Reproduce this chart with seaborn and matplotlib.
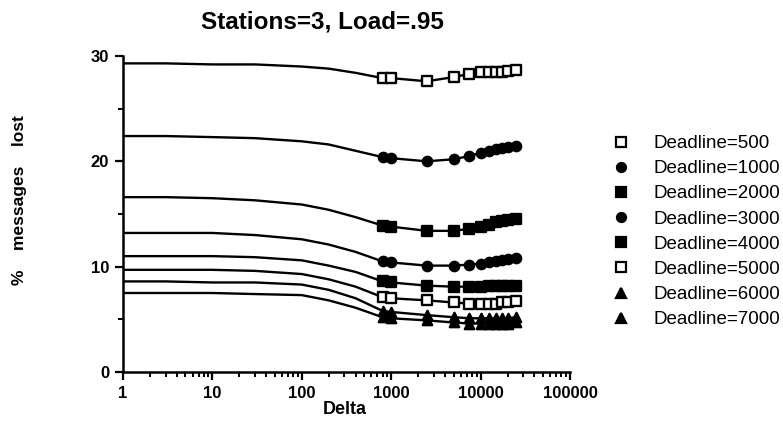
import matplotlib
matplotlib.use("Agg")
import matplotlib.pyplot as plt
from matplotlib.lines import Line2D
from matplotlib.ticker import LogLocator, FixedLocator, NullFormatter
import seaborn as sns
import pandas as pd
import numpy as np

# line-only points (no markers drawn) and marked points
delta_line = [1, 3, 10, 30, 100, 200, 400]
delta_mark = [800, 1000, 2500, 5000, 7500, 10000, 12500, 15000, 17500, 20000, 25000]

deadlines = [500, 1000, 2000, 3000, 4000, 5000, 6000, 7000]

lost_500 = [29.3, 29.3, 29.2, 29.2, 29.0, 28.8, 28.4,
            27.9, 27.9, 27.6, 28.0, 28.3, 28.5, 28.5, 28.5, 28.5, 28.6, 28.7]
lost_1000 = [22.4, 22.4, 22.3, 22.2, 21.9, 21.6, 21.0,
             20.4, 20.3, 20.0, 20.2, 20.5, 20.8, 21.0, 21.2, 21.3, 21.4, 21.5]
lost_2000 = [16.6, 16.6, 16.5, 16.3, 15.9, 15.4, 14.7,
             13.9, 13.8, 13.4, 13.4, 13.6, 13.8, 14.0, 14.2, 14.3, 14.4, 14.5]
lost_3000 = [13.2, 13.2, 13.2, 13.0, 12.6, 12.1, 11.4,
             10.5, 10.4, 10.1, 10.1, 10.2, 10.3, 10.4, 10.5, 10.6, 10.7, 10.8]
lost_4000 = [11.0, 11.0, 11.0, 10.9, 10.6, 10.1, 9.5,
             8.6, 8.5, 8.2, 8.1, 8.1, 8.1, 8.2, 8.2, 8.2, 8.2, 8.2]
lost_5000 = [9.7, 9.7, 9.7, 9.6, 9.3, 8.8, 8.1,
             7.1, 7.0, 6.8, 6.6, 6.5, 6.5, 6.5, 6.5, 6.6, 6.6, 6.7]
lost_6000 = [8.6, 8.6, 8.5, 8.5, 8.3, 7.8, 7.0,
             5.8, 5.7, 5.4, 5.2, 5.1, 5.1, 5.1, 5.1, 5.1, 5.1, 5.2]
lost_7000 = [7.5, 7.5, 7.5, 7.4, 7.3, 6.8, 6.1,
             5.2, 5.1, 4.9, 4.7, 4.6, 4.6, 4.6, 4.6, 4.6, 4.6, 4.7]

series = [lost_500, lost_1000, lost_2000, lost_3000,
          lost_4000, lost_5000, lost_6000, lost_7000]

# marker shape, face colour
styles = [('s', 'white'), ('o', 'black'), ('s', 'black'), ('o', 'black'),
          ('s', 'black'), ('s', 'white'), ('^', 'black'), ('^', 'black')]

rows = []
for d, vals in zip(deadlines, series):
    for x, v in zip(delta_line + delta_mark, vals):
        rows.append({'Delta': x, 'Lost': v, 'Deadline': f'Deadline={d}',
                     'marked': x >= 800})
df = pd.DataFrame(rows)

sns.set_style('white')
plt.rcParams['font.family'] = ['Liberation Sans', 'DejaVu Sans']
plt.rcParams['text.color'] = 'black'

fig = plt.figure(figsize=(7.83, 4.44), dpi=100)
ax = fig.add_axes([123 / 783, 1 - 372 / 444, (570 - 123) / 783, (372 - 56) / 444])

handles = []
for d, (mk, fc) in zip(deadlines, styles):
    label = f'Deadline={d}'
    sub = df[df['Deadline'] == label]
    sns.lineplot(data=sub, x='Delta', y='Lost', ax=ax, color='black',
                 linewidth=1.7, legend=False, errorbar=None)
    pts = sub[sub['marked']]
    sns.scatterplot(data=pts, x='Delta', y='Lost', ax=ax, marker=mk,
                    s=45, color=fc, edgecolor='black', linewidth=1.7,
                    legend=False, zorder=3)
    handles.append(Line2D([], [], linestyle='none', marker=mk, markersize=6.5,
                          markerfacecolor=fc, markeredgecolor='black',
                          markeredgewidth=1.6, label=label))

ax.set_xscale('log')
ax.set_xlim(1, 100000)
ax.set_ylim(0, 30)
ax.set_xticks([1, 10, 100, 1000, 10000, 100000])
ax.set_xticklabels(['1', '10', '100', '1000', '10000', '100000'])
ax.xaxis.set_minor_locator(LogLocator(base=10, subs=np.arange(2, 10)))
ax.xaxis.set_minor_formatter(NullFormatter())
ax.set_yticks([0, 10, 20, 30])
ax.yaxis.set_minor_locator(FixedLocator([5, 15, 25]))

for s in ['top', 'right']:
    ax.spines[s].set_visible(False)
for s in ['left', 'bottom']:
    ax.spines[s].set_color('black')
    ax.spines[s].set_linewidth(1.8)

ax.tick_params(axis='both', which='major', direction='out', length=6, width=1.6,
               colors='black', labelsize=12, pad=4, left=True, bottom=True)
ax.tick_params(axis='both', which='minor', direction='out', length=3.5, width=1.4,
               colors='black', left=True, bottom=True)
for lab in ax.get_xticklabels() + ax.get_yticklabels():
    lab.set_fontweight('bold')

ax.set_xlabel('')
ax.set_ylabel('')
fig.text(345 / 783, 1 - 414 / 444, 'Delta', ha='center', va='baseline',
         fontsize=13, fontweight='bold')
fig.text(20 / 783, 1 - 200 / 444, '%    messages    lost', rotation=90,
         ha='center', va='center', fontsize=12.5, fontweight='bold')
fig.text(322 / 783, 1 - 28 / 444, 'Stations=3, Load=.95', ha='center',
         va='baseline', fontsize=17.5, fontweight='bold')

fig.legend(handles=handles, loc='upper left',
           bbox_to_anchor=(612 / 783, 1 - 135 / 444), frameon=False,
           fontsize=13.5, handlelength=1.0, handletextpad=1.2,
           labelspacing=0.43, borderpad=0, borderaxespad=0)

fig.savefig('out.png', dpi=100)
